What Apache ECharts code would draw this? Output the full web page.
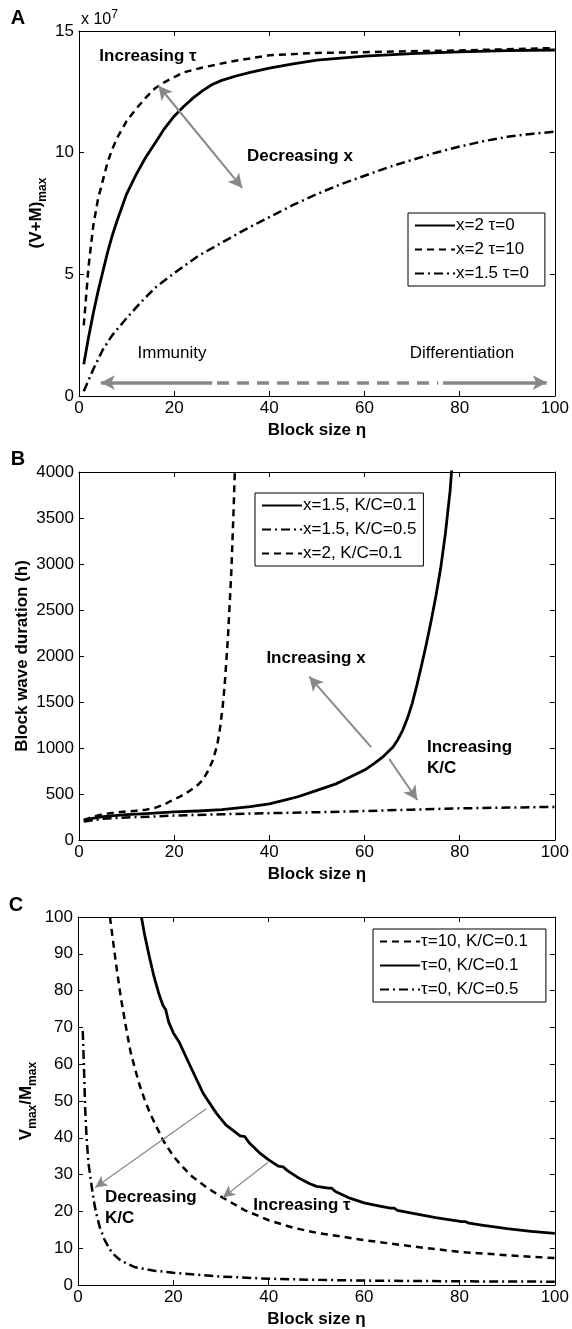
<!DOCTYPE html>
<html>
<head>
<meta charset="utf-8">
<script src="https://cdn.jsdelivr.net/npm/echarts@6/dist/echarts.min.js"></script>
<style>
html, body { margin: 0; padding: 0; background: #fff; }
#main { width: 572px; height: 1329px; }
</style>
</head>
<body>
<div id="main"></div>
<script>
// ---- panel A : (V+M)max vs block size, values in units of 1e7
var aSolidX = [1, 2, 3, 4, 5, 6, 7, 8, 10, 12, 14, 16, 18, 20, 22, 24, 26, 28, 30, 33, 36, 40, 45, 50, 60, 70, 80, 90, 100];
var aSolidY = [1.3, 2.4, 3.4, 4.3, 5.1, 5.9, 6.6, 7.2, 8.3, 9.1, 9.8, 10.4, 11.0, 11.5, 11.9, 12.25, 12.55, 12.8, 12.97, 13.15, 13.3, 13.47, 13.65, 13.8, 13.97, 14.07, 14.14, 14.19, 14.22];
var aDashX = [1, 2, 3, 4, 5, 6, 7, 8, 10, 12, 14, 16, 18, 22, 26, 32, 40, 50, 60, 70, 80, 90, 100];
var aDashY = [2.9, 5.3, 7.0, 8.1, 8.85, 9.6, 10.15, 10.6, 11.3, 11.8, 12.25, 12.65, 12.9, 13.3, 13.5, 13.75, 14.0, 14.1, 14.13, 14.17, 14.2, 14.25, 14.3];
var aDotX = [1, 3, 5, 7, 10, 13, 16, 20, 25, 30, 35, 40, 45, 50, 55, 60, 65, 70, 75, 80, 85, 90, 95, 100];
var aDotY = [0.2, 1.1, 1.9, 2.5, 3.2, 3.85, 4.45, 5.05, 5.75, 6.3, 6.85, 7.35, 7.85, 8.3, 8.7, 9.05, 9.4, 9.7, 10.0, 10.25, 10.47, 10.65, 10.77, 10.86];

// ---- panel B : block wave duration (h)
var bSolidX = [1, 5, 10, 15, 20, 25, 30, 36, 40, 43, 46, 50, 54, 57, 60, 62, 64, 66, 67, 68, 69, 70, 71, 72, 73, 74, 75, 76, 77, 78, 78.5];
var bSolidY = [220, 255, 275, 290, 305, 315, 330, 362, 392, 430, 470, 540, 610, 685, 760, 830, 910, 1010, 1090, 1190, 1320, 1480, 1680, 1900, 2130, 2380, 2650, 2950, 3330, 3800, 4150];
var bDotX = [1, 5, 10, 15, 20, 30, 40, 50, 60, 70, 80, 90, 100];
var bDotY = [200, 230, 245, 254, 265, 280, 292, 302, 315, 330, 344, 352, 360];
var bDashX = [1, 3, 5, 8, 10, 12, 14, 16, 18, 19, 21, 23, 25, 26, 27, 28, 29, 29.6, 30.2, 30.6, 31.3, 32, 32.5, 32.8];
var bDashY = [215, 255, 280, 300, 310, 318, 328, 350, 388, 416, 465, 525, 600, 652, 740, 850, 1020, 1200, 1450, 1670, 2200, 2900, 3600, 4100];

// ---- panel C : Vmax/Mmax
var cDashX = [6.7, 7.5, 8, 9, 10, 11, 12, 13, 14, 15, 16, 18, 20, 22, 24, 27, 30, 35, 40, 45, 50, 60, 70, 80, 90, 100];
var cDashY = [100, 92, 87, 78, 70.5, 63.5, 58.5, 54, 50.3, 47, 44.2, 39, 35, 32, 29.4, 26.5, 24, 20.3, 17.6, 15.6, 14.2, 12.2, 10.5, 9.0, 8.1, 7.3];
var cSolidX = [13.3, 14, 15, 16, 17, 17.8, 18.4, 19, 20, 21.3, 23, 25, 26.2, 29, 31, 34, 35, 36, 38, 40, 42, 43, 44, 46, 48.5, 50, 52.5, 53.2, 54, 57, 60, 63, 65.5, 66.3, 67, 70, 75, 80.5, 81.3, 82, 85, 90, 95, 100];
var cSolidY = [100, 95, 89, 83.5, 79, 76, 74.8, 71.5, 68.5, 65.8, 61, 55.5, 52.2, 46.7, 43.5, 40.5, 40.3, 38.5, 36, 34, 32.3, 32.1, 31.0, 29.3, 27.6, 26.8, 26.3, 26.3, 25.4, 23.6, 22.3, 21.5, 20.9, 20.9, 20.3, 19.5, 18.3, 17.2, 17.2, 16.8, 16.2, 15.3, 14.6, 14];
var cDotX = [1, 1.3, 1.5, 1.8, 2.2, 2.9, 3.5, 4, 4.6, 5.5, 6.5, 7.4, 9, 12, 16, 20, 30, 40, 50, 60, 80, 100];
var cDotY = [69, 57, 48, 40, 33, 26.5, 21.5, 18.5, 15.6, 12.5, 10, 8.4, 6.6, 4.8, 3.9, 3.3, 2.3, 1.7, 1.4, 1.2, 1.0, 0.9];

var xTicks = [0, 20, 40, 60, 80, 100];
var yMax = [15, 4000, 100];
var yStep = [5, 500, 10];

var FONT = '"Liberation Sans", Arial, Helvetica, sans-serif';
var GREY = '#888888';

function pairs(xs, ys) {
    var out = [];
    for (var i = 0; i < xs.length; i++) {
        out.push([xs[i], ys[i]]);
    }
    return out;
}

var grids = [
    { left: 79, top: 31, width: 478, height: 365 },
    { left: 79, top: 472, width: 477, height: 368 },
    { left: 78, top: 917, width: 478, height: 368 }
];

var axisLine = { onZero: false, lineStyle: { color: '#000', width: 1 } };
var axisTick = { inside: true, length: 5, lineStyle: { color: '#000', width: 1 } };
var plain = function (v) { return String(v); };

var xAxes = [];
var yAxes = [];
for (var g = 0; g < 3; g++) {
    xAxes.push({
        gridIndex: g, type: 'value', min: xTicks[0], max: xTicks[xTicks.length - 1], interval: 20,
        position: 'bottom',
        name: 'Block size η', nameLocation: 'middle', nameGap: 26,
        nameTextStyle: { color: '#000', fontSize: 17, fontWeight: 'bold', fontFamily: FONT },
        axisLine: axisLine, axisTick: axisTick,
        axisLabel: { color: '#000', fontSize: 17, fontFamily: FONT, margin: 4, formatter: plain },
        splitLine: { show: false }
    });
    xAxes.push({
        gridIndex: g, type: 'value', min: 0, max: 100, interval: 20, position: 'top',
        axisLine: axisLine, axisTick: axisTick, axisLabel: { show: false }, splitLine: { show: false }
    });
    yAxes.push({
        gridIndex: g, type: 'value', min: 0, max: yMax[g], interval: yStep[g], position: 'left',
        axisLine: axisLine, axisTick: axisTick,
        axisLabel: { color: '#000', fontSize: 17, fontFamily: FONT, margin: 5, formatter: plain },
        splitLine: { show: false }
    });
    yAxes.push({
        gridIndex: g, type: 'value', min: 0, max: yMax[g], interval: yStep[g], position: 'right',
        axisLine: axisLine, axisTick: axisTick, axisLabel: { show: false }, splitLine: { show: false }
    });
}

function lineSeries(name, g, data, type, width) {
    return {
        name: name, type: 'line', xAxisIndex: 2 * g, yAxisIndex: 2 * g,
        data: data, symbol: 'none', smooth: false,
        lineStyle: { color: '#000', width: width || 2.5, type: type, join: 'round' },
        itemStyle: { color: '#000' },
        clip: true, silent: true
    };
}

var SOLID = 'solid';
var DASH = [7, 5];
var DASHDOT = [9, 4, 2, 4];

function arrow(from, to, heads, w, style) {
    return [
        { coord: from, symbol: heads[0], lineStyle: { color: GREY, width: w, type: style || 'solid' } },
        { coord: to, symbol: heads[1] }
    ];
}

var sA1 = lineSeries('x=2 τ=0', 0, pairs(aSolidX, aSolidY), SOLID, 2.8);
sA1.markLine = {
    silent: true, animation: false, label: { show: false }, symbolSize: [11, 14],
    data: [
        arrow([16.7, 12.75], [34.3, 8.55], ['arrow', 'arrow'], 2),
        arrow([4.6, 0.55], [28, 0.55], ['arrow', 'none'], 3.5),
        arrow([29, 0.55], [75.5, 0.55], ['none', 'none'], 3.5, [12, 8]),
        arrow([76.5, 0.55], [98.3, 0.55], ['none', 'arrow'], 3.5)
    ]
};
var sB1 = lineSeries('x=1.5, K/C=0.1', 1, pairs(bSolidX, bSolidY), SOLID, 2.8);
sB1.markLine = {
    silent: true, animation: false, label: { show: false }, symbolSize: [11, 14],
    data: [
        arrow([61.4, 1010], [48.4, 1775], ['none', 'arrow'], 2),
        arrow([65.2, 880], [71.1, 435], ['none', 'arrow'], 2)
    ]
};
var sC2 = lineSeries('τ=0, K/C=0.1', 2, pairs(cSolidX, cSolidY), SOLID, 2.8);
sC2.markLine = {
    silent: true, animation: false, label: { show: false }, symbolSize: [9, 12],
    data: [
        arrow([26.9, 47.9], [3.6, 26.5], ['none', 'arrow'], 1.2),
        arrow([39.8, 33.3], [30.4, 23.8], ['none', 'arrow'], 1.2)
    ]
};

var series = [
    sA1,
    lineSeries('x=2 τ=10', 0, pairs(aDashX, aDashY), DASH),
    lineSeries('x=1.5 τ=0', 0, pairs(aDotX, aDotY), DASHDOT),
    sB1,
    lineSeries('x=1.5, K/C=0.5', 1, pairs(bDotX, bDotY), DASHDOT),
    lineSeries('x=2, K/C=0.1', 1, pairs(bDashX, bDashY), DASH),
    lineSeries('τ=10, K/C=0.1', 2, pairs(cDashX, cDashY), DASH),
    sC2,
    lineSeries('τ=0, K/C=0.5', 2, pairs(cDotX, cDotY), DASHDOT)
];

function legendBox(names, left, top, padRight) {
    return {
        data: names, orient: 'vertical', left: left, top: top,
        backgroundColor: '#fff', borderColor: '#000', borderWidth: 1,
        padding: [4, padRight, 4, 6], itemGap: 7, itemWidth: 40, itemHeight: 16,
        selectedMode: false,
        itemStyle: { color: 'rgba(0,0,0,0)', borderWidth: 0 },
        textStyle: { color: '#000', fontSize: 17, fontFamily: FONT, padding: [0, 0, 0, -4] }
    };
}

var legends = [
    legendBox(['x=2 τ=0', 'x=2 τ=10', 'x=1.5 τ=0'], 408, 213, 16),
    legendBox(['x=1.5, K/C=0.1', 'x=1.5, K/C=0.5', 'x=2, K/C=0.1'], 255, 493, 7),
    legendBox(['τ=10, K/C=0.1', 'τ=0, K/C=0.1', 'τ=0, K/C=0.5'], 373, 929, 18)
];

function txt(x, y, text, size, weight, align) {
    return {
        type: 'text', x: x, y: y, silent: true,
        style: {
            text: text, fill: '#000', fontSize: size, fontWeight: weight || 'normal',
            fontFamily: FONT, align: align || 'center', verticalAlign: 'middle'
        }
    };
}

function ylab(x, y, text, rich) {
    var el = txt(x, y, text, 17, 'bold');
    el.rotation = Math.PI / 2;
    if (rich) {
        el.style.rich = rich;
    }
    return el;
}

var subRich = {
    m: { fontSize: 17, fontWeight: 'bold', fontFamily: FONT, fill: '#000' },
    s: { fontSize: 12, fontWeight: 'bold', fontFamily: FONT, fill: '#000', padding: [13, 0, 0, 0] }
};

var graphics = [
    txt(18, 18, 'A', 20, 'bold'),
    txt(18, 459, 'B', 20, 'bold'),
    txt(16, 905, 'C', 20, 'bold'),
    {
        type: 'text', x: 81, y: 20, silent: true,
        style: {
            text: '{m|x 10}{s|7}', verticalAlign: 'middle', align: 'left',
            rich: {
                m: { fontSize: 16, fontFamily: FONT, fill: '#000' },
                s: { fontSize: 12, fontFamily: FONT, fill: '#000', padding: [0, 0, 11, 0] }
            }
        }
    },
    ylab(36, 213, '{m|(V+M)}{s|max}', subRich),
    ylab(22, 656, 'Block wave duration (h)'),
    ylab(26, 1101, '{m|V}{s|max}{m|/M}{s|max}', subRich),
    txt(148, 56, 'Increasing τ', 17, 'bold'),
    txt(300, 156, 'Decreasing x', 17, 'bold'),
    txt(172, 353, 'Immunity', 17),
    txt(462, 353, 'Differentiation', 17),
    txt(316, 658, 'Increasing x', 17, 'bold'),
    txt(427, 747, 'Increasing', 17, 'bold', 'left'),
    txt(427, 768, 'K/C', 17, 'bold', 'left'),
    txt(105, 1197, 'Decreasing', 17, 'bold', 'left'),
    txt(105, 1218, 'K/C', 17, 'bold', 'left'),
    txt(302, 1205, 'Increasing τ', 17, 'bold')
];

var myChart = echarts.init(document.getElementById('main'), null, { renderer: 'canvas' });
var option = {
    backgroundColor: '#fff',
    animation: false,
    grid: grids,
    xAxis: xAxes,
    yAxis: yAxes,
    legend: legends,
    series: series,
    graphic: graphics
};
myChart.setOption(option);
</script>
</body>
</html>
